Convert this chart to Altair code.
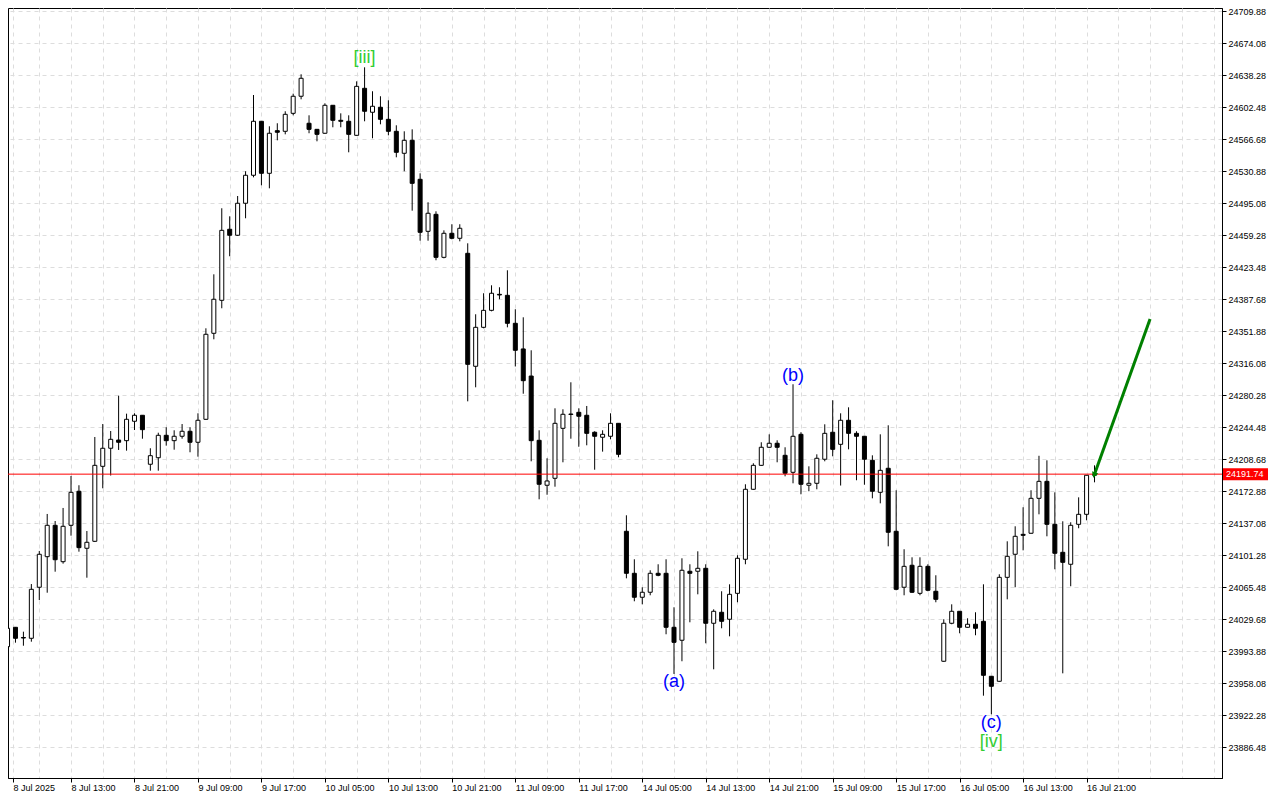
import json
import altair as alt
import pandas as pd

# ---------------- data ----------------
opens = [23998.7, 24020.4, 24009.0, 24008.1, 24065.2, 24099.4, 24134.5, 24093.8, 24134.5, 24172.6,
         24108.8, 24116.6, 24200.5, 24220.7, 24229.9, 24229.2, 24250.9, 24257.6, 24202.8, 24210.1,
         24235.2, 24229.2, 24234.1, 24239.7, 24227.4, 24253.1, 24349.3, 24386.2, 24465.7, 24459.0,
         24494.8, 24526.1, 24586.5, 24528.3, 24576.0, 24575.3, 24595.4, 24614.5, 24584.3, 24577.5,
         24573.1, 24604.4, 24587.6, 24586.5, 24570.8, 24623.4, 24596.6, 24602.2, 24588.7, 24575.3,
         24550.7, 24565.2, 24521.6, 24463.4, 24482.4, 24434.3, 24461.2, 24455.6, 24438.8, 24312.4,
         24356.0, 24375.0, 24392.9, 24391.8, 24360.5, 24331.8, 24301.5, 24229.6, 24179.3, 24187.1,
         24243.0, 24258.5, 24260.9, 24257.6, 24238.6, 24233.0, 24234.1, 24248.6, 24127.8, 24080.8,
         24054.0, 24059.6, 24080.8, 24080.8, 24020.4, 24005.9, 24083.1, 24083.1, 24086.4, 24024.9,
         24037.2, 24029.4, 24058.4, 24096.5, 24174.8, 24201.6, 24221.8, 24226.3, 24212.8, 24193.8,
         24236.3, 24179.3, 24181.5, 24208.4, 24238.6, 24225.1, 24252.0, 24237.4, 24234.1, 24207.2,
         24171.4, 24198.3, 24127.8, 24065.2, 24089.8, 24058.4, 24088.6, 24060.7, 23982.4, 24024.9,
         24038.3, 24020.4, 24023.8, 24027.1, 23965.6, 23960.0, 24076.3, 24102.1, 24124.4, 24125.6,
         24164.7, 24183.7, 24135.6, 24104.3, 24090.9, 24135.6, 24146.8, 24190.5]
highs = [24021.9, 24020.7, 24015.5, 24068.8, 24105.8, 24147.2, 24139.3, 24153.9, 24189.7, 24179.3,
         24128.1, 24233.3, 24247.8, 24240.0, 24279.5, 24259.4, 24259.8, 24257.6, 24220.7, 24238.1,
         24244.2, 24240.8, 24247.8, 24244.2, 24259.8, 24354.9, 24415.3, 24489.2, 24480.2, 24502.9,
         24530.6, 24615.9, 24586.5, 24580.9, 24584.3, 24597.7, 24617.4, 24639.1, 24593.2, 24577.9,
         24606.6, 24604.4, 24595.4, 24593.2, 24631.2, 24646.9, 24620.1, 24614.5, 24610.0, 24582.0,
         24575.3, 24577.5, 24528.3, 24495.9, 24485.8, 24464.5, 24471.3, 24471.3, 24450.0, 24370.6,
         24394.1, 24403.0, 24400.8, 24419.8, 24376.2, 24367.2, 24330.3, 24240.8, 24209.5, 24265.4,
         24264.3, 24294.5, 24265.4, 24268.0, 24239.7, 24240.8, 24259.8, 24248.6, 24145.7, 24096.5,
         24065.2, 24084.2, 24090.9, 24096.5, 24042.8, 24097.6, 24090.9, 24105.4, 24090.9, 24040.5,
         24060.7, 24068.5, 24101.0, 24180.4, 24203.9, 24227.4, 24236.3, 24229.6, 24221.8, 24292.3,
         24238.6, 24200.5, 24213.9, 24247.5, 24274.4, 24259.8, 24266.5, 24239.7, 24234.1, 24212.8,
         24236.3, 24246.4, 24173.7, 24107.7, 24098.7, 24098.7, 24090.9, 24078.6, 24029.4, 24046.1,
         24038.3, 24030.5, 24037.2, 24068.5, 23965.6, 24079.7, 24116.6, 24133.4, 24154.7, 24173.7,
         24212.3, 24207.2, 24171.4, 24139.0, 24137.9, 24165.8, 24190.5, 24201.6]
lows = [23997.2, 24003.2, 23999.8, 24004.3, 24050.9, 24059.1, 24082.6, 24091.6, 24122.9, 24105.0,
        24075.9, 24115.8, 24175.9, 24190.2, 24218.8, 24218.0, 24241.1, 24231.4, 24195.6, 24195.6,
        24223.6, 24219.1, 24231.4, 24216.2, 24211.3, 24252.5, 24342.6, 24377.3, 24435.5, 24458.2,
        24478.0, 24523.8, 24514.9, 24511.5, 24565.2, 24571.9, 24593.2, 24611.1, 24573.1, 24564.1,
        24572.5, 24579.8, 24579.8, 24551.8, 24570.3, 24586.5, 24567.5, 24583.1, 24570.8, 24546.2,
        24530.6, 24486.5, 24452.9, 24452.9, 24431.0, 24433.2, 24454.5, 24452.2, 24273.2, 24288.9,
        24354.9, 24373.9, 24387.4, 24356.0, 24312.2, 24281.7, 24206.1, 24163.6, 24168.7, 24177.7,
        24205.0, 24231.4, 24222.4, 24224.0, 24196.7, 24216.9, 24230.7, 24210.6, 24075.2, 24049.5,
        24046.1, 24056.2, 24077.5, 24012.6, 23968.2, 23982.4, 24026.0, 24057.3, 24002.5, 23973.4,
        24019.3, 24010.3, 24048.4, 24090.9, 24174.3, 24201.0, 24221.2, 24205.0, 24189.3, 24181.5,
        24169.2, 24172.6, 24174.8, 24206.1, 24211.7, 24179.0, 24219.5, 24184.9, 24179.9, 24164.7,
        24159.1, 24111.0, 24061.8, 24056.2, 24058.8, 24056.2, 24060.7, 24048.4, 23981.8, 24023.8,
        24013.7, 24020.0, 24011.5, 23943.9, 23923.1, 23959.5, 24051.7, 24065.2, 24106.5, 24125.1,
        24146.8, 24122.2, 24085.3, 23968.9, 24066.3, 24131.2, 24140.1, 24182.6]
closes = [24019.3, 24008.1, 24008.4, 24062.9, 24102.1, 24134.5, 24096.0, 24133.4, 24171.4, 24109.5,
          24115.5, 24201.6, 24220.7, 24230.7, 24227.4, 24253.1, 24257.6, 24241.5, 24212.4, 24235.2,
          24229.2, 24234.1, 24239.7, 24227.4, 24252.0, 24348.2, 24387.4, 24464.5, 24459.0, 24494.8,
          24526.1, 24586.5, 24528.3, 24573.1, 24574.2, 24594.3, 24614.5, 24634.6, 24577.5, 24571.9,
          24604.4, 24587.6, 24586.5, 24571.9, 24625.6, 24597.7, 24603.3, 24588.7, 24575.3, 24551.8,
          24565.2, 24517.1, 24462.3, 24483.6, 24434.3, 24461.2, 24455.6, 24466.8, 24314.6, 24356.0,
          24375.0, 24394.1, 24392.2, 24360.5, 24330.3, 24296.3, 24229.2, 24180.4, 24184.1, 24248.6,
          24258.7, 24259.0, 24256.5, 24237.4, 24234.1, 24236.3, 24248.6, 24213.9, 24080.8, 24054.0,
          24059.6, 24080.8, 24078.6, 24020.4, 24003.6, 24084.2, 24080.8, 24086.4, 24024.9, 24038.3,
          24027.1, 24057.3, 24097.6, 24174.8, 24201.6, 24221.8, 24226.3, 24221.8, 24192.7, 24234.1,
          24180.4, 24181.5, 24209.5, 24237.4, 24219.5, 24252.0, 24237.4, 24234.1, 24208.4, 24172.6,
          24196.0, 24126.7, 24062.9, 24088.6, 24059.6, 24088.6, 24061.8, 24051.7, 24024.9, 24038.3,
          24020.4, 24023.8, 24019.3, 23966.7, 23954.4, 24076.3, 24099.8, 24122.2, 24123.3, 24164.7,
          24183.7, 24135.6, 24103.2, 24093.1, 24134.5, 24146.8, 24190.5, 24191.74]

x_labels = ["8 Jul 2025", "8 Jul 13:00", "8 Jul 21:00", "9 Jul 09:00", "9 Jul 17:00",
            "10 Jul 05:00", "10 Jul 13:00", "10 Jul 21:00", "11 Jul 09:00", "11 Jul 17:00",
            "14 Jul 05:00", "14 Jul 13:00", "14 Jul 21:00", "15 Jul 09:00", "15 Jul 17:00",
            "16 Jul 05:00", "16 Jul 13:00", "16 Jul 21:00"]
y_ticks = [24709.88, 24674.08, 24638.28, 24602.48, 24566.68, 24530.88, 24495.08, 24459.28,
           24423.48, 24387.68, 24351.88, 24316.08, 24280.28, 24244.48, 24208.68, 24172.88,
           24137.08, 24101.28, 24065.48, 24029.68, 23993.88, 23958.08, 23922.28, 23886.48]

current_price = [24191.74]
arrow_x = [137, 144]
arrow_p = [24191.74, 24365.3]

wave_text = ["[iii]", "(a)", "(b)", "(c)", "[iv]"]
wave_x = [45, 84, 99, 124, 124]
wave_p = [24657.3, 23959.2, 24301.5, 23913.3, 23892.1]
wave_color = ["#32cd32", "#0000ff", "#0000ff", "#0000ff", "#32cd32"]

# ---------------- chart ----------------
XMIN, XMAX = 0.6875, 152.4375
YMIN, YMAX = 23851.80, 24713.24
W, H = 1214, 770
FONT = "Liberation Sans"

df = pd.DataFrame({"i": list(range(len(opens))), "open": opens, "high": highs,
                   "low": lows, "close": closes})
df_level = pd.DataFrame({"p": current_price})
df_arrow = pd.DataFrame({"i": arrow_x, "p": arrow_p})
df_head = df_arrow.iloc[[0]]
df_wave = pd.DataFrame({"i": wave_x, "p": wave_p, "t": wave_text, "c": wave_color})

xs = alt.Scale(domain=[XMIN, XMAX], nice=False, zero=False)
ys = alt.Scale(domain=[YMIN, YMAX], nice=False, zero=False)

x_vals = [XMIN] + list(range(4, 153, 4))
label_expr = ("(datum.value > 137 || datum.value % 8 == 4) ? '' : "
              + json.dumps(x_labels) + "[round(datum.value / 8)]")

x_axis = alt.Axis(values=x_vals, labelExpr=label_expr, title=None, grid=True,
                  gridDash=[4, 4], gridColor="#dddddd", gridWidth=1,
                  tickSize=4,
                  tickColor={"condition": {"test": "datum.value % 8 == 4 || datum.value > 137",
                                           "value": "transparent"}, "value": "black"},
                  labelAlign="left", labelPadding=1, labelFont=FONT, labelFontSize=9,
                  labelColor="black", domainColor="black", labelOverlap=False,
                  labelFlush=False)
y_axis = alt.Axis(orient="right", values=y_ticks, format=".2f", title=None, grid=True,
                  gridDash=[4, 4], gridColor="#dddddd", gridWidth=1, tickSize=4,
                  tickColor="black", labelPadding=2, labelFont=FONT, labelFontSize=9,
                  labelColor="black", labelBaseline="middle", domainColor="black",
                  labelOverlap=False, labelFlush=False)


def X(field):
    return alt.X(field, type="quantitative", scale=xs, axis=x_axis)


def Y(field):
    return alt.Y(field, type="quantitative", scale=ys, axis=y_axis)


wicks = alt.Chart(df).mark_rule(color="black", strokeWidth=1, clip=True).encode(
    x=X("i"), y=Y("low"), y2="high")

bodies = alt.Chart(df).mark_bar(size=4, stroke="black", strokeWidth=1, clip=True).encode(
    x=X("i"), y=Y("open"), y2="close",
    fill=alt.condition("datum.close >= datum.open", alt.value("white"), alt.value("black")))

level = alt.Chart(df_level).mark_rule(color="#ff0000", strokeWidth=1).encode(y=Y("p"))

arrow = alt.Chart(df_arrow).mark_line(color="#008000", strokeWidth=3).encode(
    x=X("i"), y=Y("p"))
head = alt.Chart(df_head).mark_point(shape="triangle", angle=200, filled=True, size=45,
                                     color="#008000", opacity=1).encode(x=X("i"), y=Y("p"))

waves = alt.Chart(df_wave).mark_text(font=FONT, fontSize=18, baseline="middle",
                                     align="center").encode(
    x=X("i"), y=Y("p"), text="t:N", color=alt.Color("c:N", scale=None))

price_box = alt.Chart(df_level).transform_calculate(
    top="datum.p + 6.7", bot="datum.p - 6.7").mark_rect(color="#ff0000").encode(
    x=alt.value(W + 1), x2=alt.value(W + 46), y=Y("top"), y2="bot")
price_txt = alt.Chart(df_level).mark_text(font=FONT, fontSize=9, color="white",
                                          align="left", baseline="middle").encode(
    x=alt.value(W + 4), y=Y("p"), text=alt.Text("p:Q", format=".2f"))

chart = alt.layer(wicks, bodies, level, arrow, head, waves, price_box, price_txt).properties(
    width=W, height=H,
    autosize=alt.AutoSizeParams(type="none"),
    padding={"left": 0, "top": 0, "right": 48, "bottom": 14},
    background="white",
).configure_view(stroke="black", strokeWidth=1)

chart.save("out.html", embed_options={"renderer": "svg", "actions": False})
